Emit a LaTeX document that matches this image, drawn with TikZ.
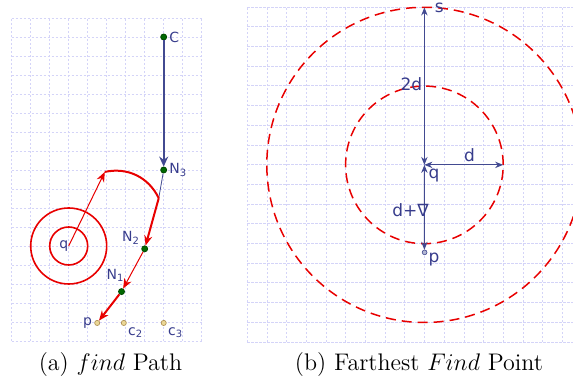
\documentclass[tikz,border=0pt]{standalone}
\usepackage{fontspec}
\newfontfamily\lblfont{DejaVu Sans}
\usetikzlibrary{arrows.meta}

\definecolor{gridcol}{RGB}{212,212,248}
\definecolor{pathred}{RGB}{232,0,0}
\definecolor{vecblue}{RGB}{66,74,145}
\definecolor{lblblue}{RGB}{55,60,140}
\definecolor{dotgreen}{RGB}{0,105,0}
\definecolor{candfill}{RGB}{235,215,150}
\definecolor{canddraw}{RGB}{170,140,80}

\tikzstyle{gridline} = [
    gridcol,
    step=1,
    line width=0.45pt,
    dash pattern=on 1.2pt off 0.8pt
]
\tikzstyle{visited} = [
    circle,
    fill=dotgreen,
    draw=dotgreen!70!black,
    inner sep=0pt,
    minimum size=3pt
]
\tikzstyle{candidate} = [
    circle,
    fill=candfill,
    draw=canddraw,
    line width=0.3pt,
    inner sep=0pt,
    minimum size=2.6pt
]
\tikzstyle{target} = [
    circle,
    fill=vecblue!40,
    draw=vecblue,
    line width=0.3pt,
    inner sep=0pt,
    minimum size=2.4pt
]
\tikzstyle{lbl} = [text=lblblue, font=\lblfont\fontsize{7}{8}\selectfont, inner sep=1pt]
\tikzstyle{rlbl} = [text=lblblue, font=\lblfont\fontsize{8.5}{9}\selectfont, inner sep=1pt]
\tikzstyle{hop} = [pathred, line width=1pt, -{Stealth[length=5pt,width=4pt]}]
\tikzstyle{thinhop} = [pathred, line width=0.5pt, -{Stealth[length=5pt,width=4pt]}]
\tikzstyle{link} = [vecblue, line width=1pt, -{Stealth[length=5pt,width=4.5pt]}]
\tikzstyle{ring} = [pathred, line width=0.8pt]
\tikzstyle{dashring} = [pathred, line width=0.75pt, dash pattern=on 5pt off 3pt]
\tikzstyle{measure} = [
    vecblue,
    line width=0.5pt,
    {Stealth[length=4pt,width=3.2pt]}-{Stealth[length=4pt,width=3.2pt]}
]

\begin{document}
\begin{tikzpicture}[x=0.5pt, y=0.5pt]

\useasboundingbox (0,0) rectangle (573,383);
\clip (0,0) rectangle (573,383);

% (a) find path
\begin{scope}[shift={(11.7,42)}, scale=19]
\draw [gridline] (0,0) grid (10,17);

\coordinate (q) at (3,5);
\coordinate (top) at (4.9,8.9);
\coordinate (bend) at (7.74,7.52);

\draw [ring] (q) circle [radius=1];
\draw [ring] (q) circle [radius=2];

\node (C) [visited] at (8,16) {};
\node (N3) [visited] at (8,9) {};
\node (N2) [visited] at (7,4.85) {};
\node (N1) [visited] at (5.78,2.6) {};
\node (p) [candidate] at (4.5,0.95) {};
\node (c2) [candidate] at (5.9,0.95) {};
\node (c3) [candidate] at (8,0.95) {};

\draw [link] (C) -- (N3);
\draw [vecblue, line width=0.4pt] (N3) -- (bend);
\draw [pathred, line width=1pt] (top) to[bend left=38] (bend);
\draw [thinhop] (q) -- (top);
\draw [hop] (bend) -- (N2);
\draw [thinhop] (N2) -- (N1);
\draw [hop] (N1) -- (p);

\node (Clbl) [lbl, anchor=west] at (C.east) {C};
\node (N3lbl) [lbl, anchor=west] at (N3.east) {N\textsubscript{3}};
\node (N2lbl) [lbl, anchor=south east] at (N2.north west) {N\textsubscript{2}};
\node (N1lbl) [lbl, anchor=south, xshift=-3pt, yshift=2pt] at (N1.north) {N\textsubscript{1}};
\node (plbl) [lbl, anchor=east] at (p.west) {p};
\node (c2lbl) [lbl, anchor=north west] at (c2.south east) {c\textsubscript{2}};
\node (c3lbl) [lbl, anchor=north west] at (c3.south east) {c\textsubscript{3}};
\node (qlbl) [lbl, anchor=east, inner sep=0pt] at (q) {q};
\end{scope}

% (b) farthest find point
\begin{scope}[shift={(247.3,41)}, scale=19.7]
\draw [gridline] (0,0) grid (16.6,17);

\coordinate (Q) at (9,9);
\coordinate (S) at (9,17);
\coordinate (D) at (13,9);
\node (P) [target] at (9,4.55) {};

\draw [dashring] (Q) circle [radius=4];
\draw [dashring] (Q) circle [radius=8];

\draw [measure] (Q) -- (S);
\draw [measure] (Q) -- (D);
\draw [measure] (Q) -- (P);

\node (Slbl) [rlbl, anchor=west, xshift=4pt] at (S) {s};
\node (twod) [rlbl, anchor=east] at (9,13.1) {2d};
\node (dlbl) [rlbl, anchor=base] at (11.28,9.14) {d};
\node (Qlbl) [rlbl] at (9.48,8.43) {q};
\node (dnab) [rlbl, anchor=east] at (9.33,6.7) {d+∇};
\node (Plbl) [rlbl] at (9.48,4.2) {p};
\end{scope}

% captions
\node (capa) [font=\large] at (110.5,18) {(a) $find$ Path};
\node (capb) [font=\large] at (419,18) {(b) Farthest $Find$ Point};

\end{tikzpicture}
\end{document}
